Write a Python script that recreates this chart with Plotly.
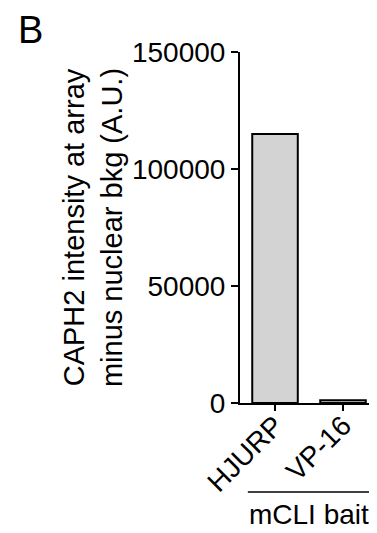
import plotly.graph_objects as go

categories = ["HJURP", "VP-16"]
values = [115000, 1200]
ytick_vals = [0, 50000, 100000, 150000]
ytick_text = ["0", "50000", "100000", "150000"]

FONT = "Liberation Sans, Arial, sans-serif"

fig = go.Figure()
fig.add_trace(go.Bar(
    x=categories, y=values, width=0.67,
    marker=dict(color="#d3d3d3", line=dict(color="black", width=2)),
))

# page body has an 8px margin; compensate so the plot lands where the reference has it
fig.update_layout(
    width=377, height=533,
    margin=dict(l=232, r=8, t=44, b=138, autoexpand=False),
    paper_bgcolor="white", plot_bgcolor="white",
    showlegend=False,
    font=dict(family=FONT, color="black", size=26),
    xaxis=dict(
        range=[-0.515, 1.5], showgrid=False, zeroline=False, automargin=False,
        showline=True, linecolor="black", linewidth=2,
        ticks="outside", ticklen=6, tickwidth=2, tickcolor="black",
        tickangle=-45, tickfont=dict(size=28), ticklabelstandoff=-13,
    ),
    yaxis=dict(
        range=[0, 150000], showgrid=False, zeroline=False, automargin=False,
        showline=True, linecolor="black", linewidth=2,
        ticks="outside", ticklen=7, tickwidth=2, tickcolor="black",
        tickvals=ytick_vals, ticktext=ytick_text, tickfont=dict(size=28),
        title=dict(text="CAPH2 intensity at array<br>minus nuclear bkg (A.U.)",
                   font=dict(size=29), standoff=1),
    ),
)

fig.add_shape(type="line", xref="x", yref="paper",
              x0=-0.4, x1=1.41, y0=-0.2536, y1=-0.2536,
              line=dict(color="black", width=1.5))
fig.add_annotation(text="mCLI bait", xref="x", yref="paper",
                   x=0.5, y=-0.267, xanchor="center", yanchor="top",
                   showarrow=False, font=dict(size=28))
fig.add_annotation(text="B", xref="paper", yref="paper",
                   x=-1.625, y=1.125, xanchor="left", yanchor="top",
                   showarrow=False, font=dict(size=38), borderpad=0)

fig.write_html("out.html")
